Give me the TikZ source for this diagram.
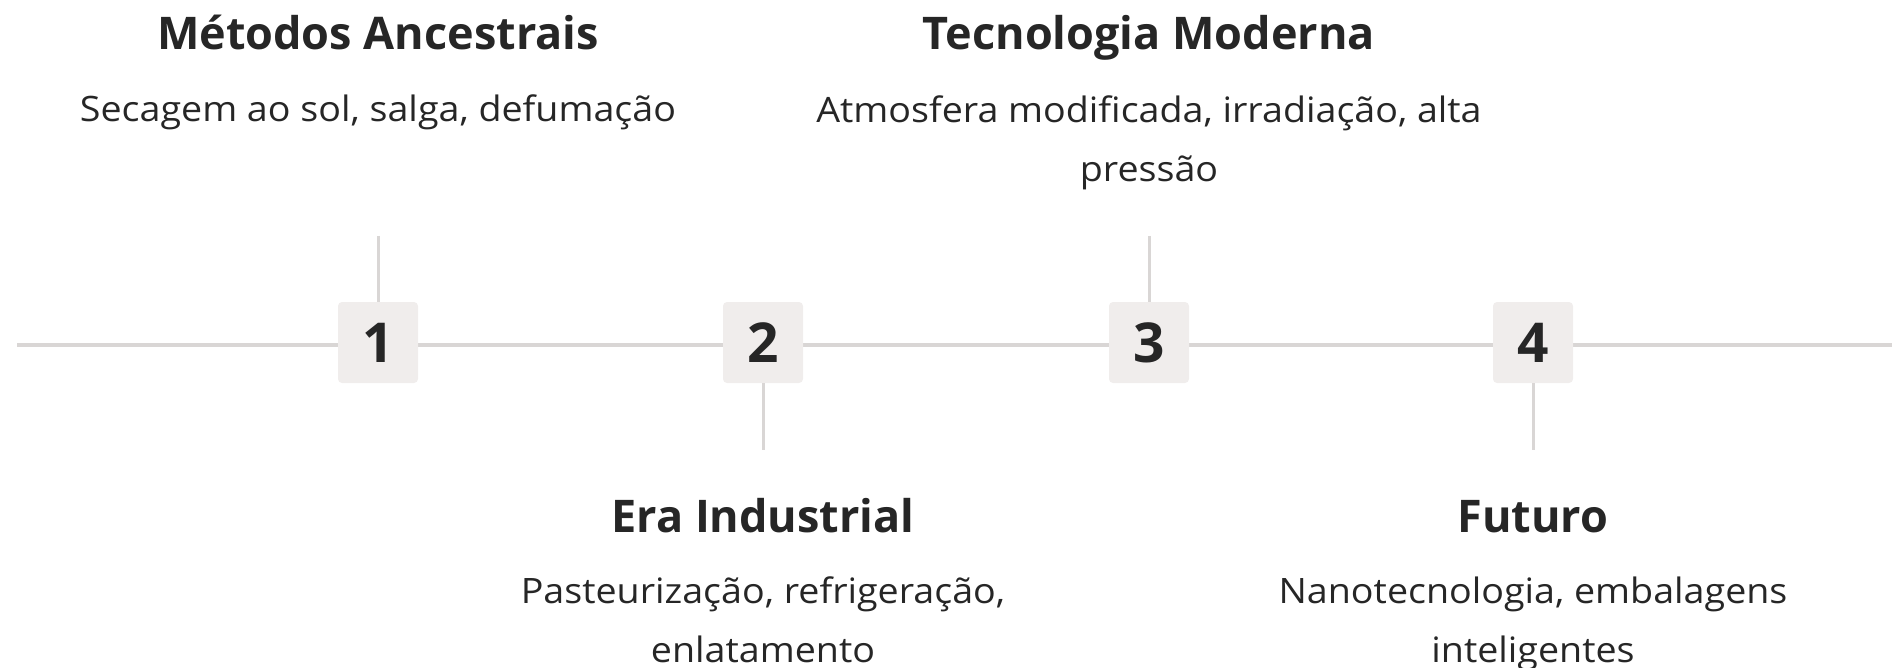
\documentclass[tikz,border=0pt]{standalone}
\usepackage{fontspec}
\setmainfont{Open Sans}
\newfontfamily\descfont{Open Sans}[FakeStretch=1.075]
\usepackage{tikz}

\definecolor{linegray}{HTML}{D9D6D5}
\definecolor{boxgray}{HTML}{F0EDEC}
\definecolor{ink}{HTML}{262626}

\begin{document}
\begin{tikzpicture}[x=1pt,y=-1pt,
  num/.style={fill=boxgray,rounded corners=4pt,minimum width=80pt,minimum height=81pt,inner sep=0pt,text=ink,font=\fontsize{55}{55}\selectfont\bfseries},
  title/.style={anchor=base,text=ink,font=\fontsize{45}{54}\selectfont\bfseries},
  desc/.style={anchor=base,align=center,text=ink,font=\descfont\fontsize{35}{59}\selectfont},
  tick/.style={draw=linegray,line width=3pt}]
\useasboundingbox (0,0) rectangle (1892,668);
\coordinate (lstart) at (17,345);
\coordinate (lend) at (1892,345);
\draw[linegray,line width=3.5pt] (lstart) -- (lend);
\node[num] (n1) at (378,342.5) {1};
\node[num] (n2) at (763,342.5) {2};
\node[num] (n3) at (1149,342.5) {3};
\node[num] (n4) at (1533,342.5) {4};
\coordinate (t1) at (378,236);
\coordinate (t2) at (763,450);
\coordinate (t3) at (1149,236);
\coordinate (t4) at (1533,450);
\draw[tick] (t1) -- (n1.north);
\draw[tick] (n2.south) -- (t2);
\draw[tick] (t3) -- (n3.north);
\draw[tick] (n4.south) -- (t4);
\node[title] (h1) at (378,50) {Métodos Ancestrais};
\node[desc] (d1) at (378,122) {Secagem ao sol, salga, defumação};
\node[title] (h3) at (1149,50) {Tecnologia Moderna};
\node[desc] (d3) at (1149,182) {Atmosfera modificada, irradiação, alta\\pressão};
\node[title] (h2) at (763,532) {Era Industrial};
\node[desc] (d2) at (763,662) {Pasteurização, refrigeração,\\enlatamento};
\node[title] (h4) at (1533,532) {Futuro};
\node[desc] (d4) at (1533,662) {Nanotecnologia, embalagens\\inteligentes};
\end{tikzpicture}
\end{document}
